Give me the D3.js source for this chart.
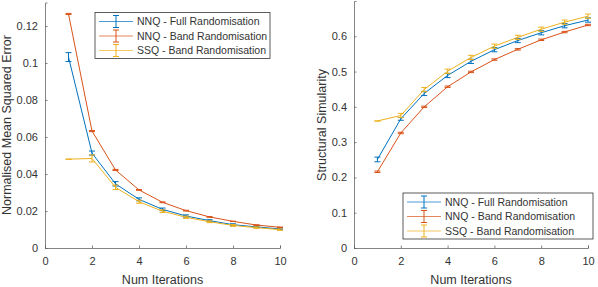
<!DOCTYPE html>
<html>
<head>
<meta charset="utf-8">
<script src="https://cdn.jsdelivr.net/npm/d3@7"></script>
<style>
  body { margin: 0; background: #fff; }
  text { font-family: "Liberation Sans", Arial, sans-serif; fill: #333; }
</style>
</head>
<body>
<script>
// data
var iterations = [1, 2, 3, 4, 5, 6, 7, 8, 9, 10];
var seriesNames = ["NNQ - Full Randomisation", "NNQ - Band Randomisation", "SSQ - Band Randomisation"];
var seriesColors = ["#0072BD", "#D95319", "#EDB120"];

// normalised mean squared error
var mseFull = [0.1032, 0.0513, 0.0347, 0.0263, 0.0209, 0.0173, 0.0148, 0.0126, 0.0114, 0.0103];
var mseFullErr = [0.0024, 0.0011, 0.0012, 0.0008, 0.0007, 0.0006, 0.0005, 0.0005, 0.0004, 0.0004];
var mseBand = [0.1265, 0.0632, 0.0422, 0.0314, 0.0247, 0.0202, 0.0168, 0.0144, 0.0124, 0.0112];
var mseBandErr = [0.0003, 0.0003, 0.0003, 0.0002, 0.0002, 0.0002, 0.0002, 0.0001, 0.0001, 0.0001];
var mseSsq = [0.0480, 0.0484, 0.0328, 0.0250, 0.0199, 0.0166, 0.0142, 0.0122, 0.0110, 0.0099];
var mseSsqErr = [0, 0.0019, 0.0012, 0.0008, 0.0007, 0.0006, 0.0005, 0.0005, 0.0004, 0.0004];

// structural similarity
var ssimFull = [0.251, 0.366, 0.438, 0.489, 0.529, 0.562, 0.588, 0.610, 0.630, 0.646];
var ssimFullErr = [0.0066, 0.004, 0.006, 0.006, 0.006, 0.006, 0.006, 0.006, 0.006, 0.006];
var ssimBand = [0.216, 0.326, 0.400, 0.457, 0.499, 0.534, 0.563, 0.590, 0.612, 0.632];
var ssimBandErr = [0.002, 0.002, 0.002, 0.002, 0.002, 0.002, 0.002, 0.002, 0.002, 0.002];
var ssimSsq = [0.360, 0.3755, 0.449, 0.501, 0.540, 0.572, 0.597, 0.620, 0.640, 0.657];
var ssimSsqErr = [0, 0.006, 0.006, 0.006, 0.006, 0.006, 0.006, 0.006, 0.006, 0.006];

var mseTicks = [0, 0.02, 0.04, 0.06, 0.08, 0.1, 0.12];
var ssimTicks = [0, 0.1, 0.2, 0.3, 0.4, 0.5, 0.6];
var xTicks = [0, 2, 4, 6, 8, 10];

var svg = d3.select("body").append("svg")
  .attr("width", 598)
  .attr("height", 287);

function drawPanel(opt) {
  var x = d3.scaleLinear().domain([0, 10]).range([opt.left, opt.right]);
  var y = d3.scaleLinear().domain(opt.yDomain).range([248, opt.top]);
  var g = svg.append("g");

  // series lines + error bars
  opt.series.forEach(function(s, i) {
    var pts = iterations.map(function(it, k) { return {x: it, y: s.values[k], e: s.err[k]}; });
    var line = d3.line().x(function(d) { return x(d.x); }).y(function(d) { return y(d.y); });
    g.append("path")
      .attr("d", line(pts))
      .attr("fill", "none")
      .attr("stroke", seriesColors[i])
      .attr("stroke-width", 1);
    var eb = g.selectAll(null).data(pts).enter().append("g")
      .attr("stroke", seriesColors[i])
      .attr("stroke-width", 1);
    eb.append("line")
      .attr("x1", function(d) { return x(d.x); })
      .attr("x2", function(d) { return x(d.x); })
      .attr("y1", function(d) { return y(d.y - d.e); })
      .attr("y2", function(d) { return y(d.y + d.e); });
    [-1, 1].forEach(function(sg) {
      eb.append("line")
        .attr("x1", function(d) { return x(d.x) - 3; })
        .attr("x2", function(d) { return x(d.x) + 3; })
        .attr("y1", function(d) { return y(d.y + sg * d.e); })
        .attr("y2", function(d) { return y(d.y + sg * d.e); });
    });
  });

  // axes, ticks inside like matlab
  var xAxis = d3.axisBottom(x).tickValues(xTicks).tickSize(-2.5).tickPadding(9)
    .tickFormat(d3.format("d"));
  var gx = g.append("g").attr("transform", "translate(0,248)").call(xAxis);
  var yAxis = d3.axisLeft(y).tickValues(opt.yTicks).tickSize(-2.5).tickPadding(7)
    .tickFormat(function(d) { return d === 0 ? "0" : String(+d.toFixed(2)); });
  var gy = g.append("g").attr("transform", "translate(" + opt.left + ",0)").call(yAxis);
  [gx, gy].forEach(function(a) {
    a.select(".domain").attr("stroke", "#666").attr("stroke-width", 0.8);
    a.selectAll(".tick line").attr("stroke", "#666").attr("stroke-width", 0.8);
    a.selectAll(".tick text").attr("font-size", 11).attr("fill", "#333")
      .style("font-family", "Liberation Sans, Arial, sans-serif");
  });
  gx.selectAll(".tick text").attr("dy", "0.71em");

  g.append("text")
    .attr("x", (opt.left + opt.right) / 2)
    .attr("y", 284)
    .attr("text-anchor", "middle")
    .attr("font-size", 12.5)
    .text("Num Iterations");
  g.append("text")
    .attr("transform", "translate(" + opt.yLabelX + ",125) rotate(-90)")
    .attr("text-anchor", "middle")
    .attr("font-size", 12.5)
    .text(opt.yLabel);

  // legend
  var lg = g.append("g").attr("transform", "translate(" + opt.legend.x + "," + opt.legend.y + ")");
  lg.append("rect")
    .attr("x", 0).attr("y", 0)
    .attr("width", opt.legend.w).attr("height", 46)
    .attr("fill", "#fff")
    .attr("stroke", "#333")
    .attr("stroke-width", 0.8);
  seriesNames.forEach(function(name, i) {
    var cy = 9 + i * 14.5;
    var row = lg.append("g").attr("stroke", seriesColors[i]).attr("stroke-width", 1);
    row.append("line").attr("x1", 4).attr("x2", 38).attr("y1", cy).attr("y2", cy)
      .attr("stroke-opacity", 0.7);
    row.append("line").attr("x1", 21).attr("x2", 21).attr("y1", cy - 6).attr("y2", cy + 6);
    row.append("line").attr("x1", 18).attr("x2", 24).attr("y1", cy - 6).attr("y2", cy - 6);
    row.append("line").attr("x1", 18).attr("x2", 24).attr("y1", cy + 6).attr("y2", cy + 6);
    lg.append("text")
      .attr("x", 42)
      .attr("y", cy + 3.8)
      .attr("font-size", 10.5)
      .text(name);
  });
}

drawPanel({
  left: 45, right: 280, top: 2.5,
  yDomain: [0, (248 - 2.5) / 1850],
  yTicks: mseTicks,
  yLabel: "Normalised Mean Squared Error",
  yLabelX: 11,
  legend: {x: 95, y: 12.5, w: 175},
  series: [
    {values: mseFull, err: mseFullErr},
    {values: mseBand, err: mseBandErr},
    {values: mseSsq, err: mseSsqErr}
  ]
});

drawPanel({
  left: 354, right: 588, top: 1,
  yDomain: [0, 0.7],
  yTicks: ssimTicks,
  yLabel: "Structural Simularity",
  yLabelX: 325.5,
  legend: {x: 403, y: 193, w: 190},
  series: [
    {values: ssimFull, err: ssimFullErr},
    {values: ssimBand, err: ssimBandErr},
    {values: ssimSsq, err: ssimSsqErr}
  ]
});
</script>
</body>
</html>
